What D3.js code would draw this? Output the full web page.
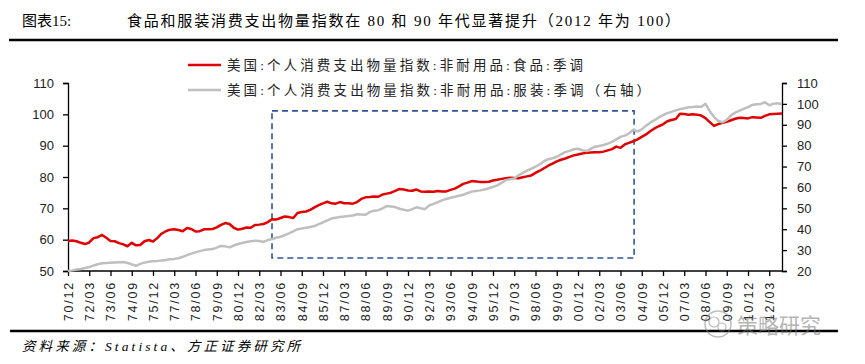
<!DOCTYPE html>
<html><head><meta charset="utf-8">
<script src="https://cdn.jsdelivr.net/npm/d3@7"></script>
<style>
html,body{margin:0;padding:0;background:#fff;}
svg{display:block;}
</style></head>
<body>
<svg id="chart" width="865" height="364"></svg>
<script>
// ---------------- DATA ----------------
const titleLabel = "图表15:";
const titleText = "食品和服装消费支出物量指数在 80 和 90 年代显著提升（2012 年为 100）";
const sourceText = "资料来源：Statista、方正证券研究所";
const seriesNames = ["美国:个人消费支出物量指数:非耐用品:食品:季调", "美国:个人消费支出物量指数:非耐用品:服装:季调（右轴）"];
const tickLabels = ["70/12","72/03","73/06","74/09","75/12","77/03","78/06","79/09","80/12","82/03","83/06","84/09","85/12","87/03","88/06","89/09","90/12","92/03","93/06","94/09","95/12","97/03","98/06","99/09","00/12","02/03","03/06","04/09","05/12","07/03","08/06","09/09","10/12","12/03"];
const leftTicks = [50,60,70,80,90,100,110];
const rightTicks = [20,30,40,50,60,70,80,90,100,110];
// quarterly, 1970Q4 .. 2012Q4
const food = [59.6,59.7,59.5,59.0,58.6,59.1,60.5,60.8,61.5,60.6,59.6,59.5,58.9,58.5,57.9,59.0,58.2,58.3,59.5,59.9,
59.4,60.5,61.9,62.7,63.2,63.3,63.1,62.7,63.7,63.4,62.6,62.7,63.3,63.3,63.4,63.9,64.7,65.3,65.0,63.8,
63.2,63.5,63.9,63.8,64.7,64.8,65.0,65.6,66.5,66.4,66.9,67.4,67.2,66.9,68.5,68.8,69.0,69.5,70.3,71.0,
71.6,72.1,71.6,71.5,72.0,71.6,71.6,71.5,72.0,73.0,73.5,73.6,73.8,73.7,74.4,74.7,75.0,75.6,76.2,76.0,
75.7,75.6,76.0,75.4,75.3,75.4,75.3,75.5,75.4,75.4,75.9,76.3,77.0,77.8,78.2,78.7,78.6,78.4,78.4,78.5,
78.9,79.1,79.4,79.6,79.8,79.7,79.6,79.9,80.2,80.5,81.3,82.0,82.8,83.6,84.3,85.0,85.5,85.9,86.4,86.9,
87.2,87.5,87.7,87.8,87.9,87.9,88.1,88.5,88.9,89.7,89.3,90.4,90.9,91.4,92.0,92.8,93.6,94.6,95.5,96.2,
96.8,97.8,98.2,98.5,100.2,100.1,99.9,100.0,99.9,99.6,98.8,97.5,96.3,96.9,97.3,97.6,98.1,98.6,98.9,98.8,
98.7,99.1,99.0,98.9,99.5,100.0,100.1,100.2,100.3];
const apparel = [20.0,20.3,20.7,21.0,21.4,21.9,22.6,23.2,23.7,23.8,24.0,24.1,24.2,24.3,23.8,23.2,22.5,23.4,24.0,24.4,
24.7,24.8,25.0,25.3,25.6,25.8,26.1,26.8,27.6,28.3,28.9,29.5,30.0,30.3,30.5,31.2,32.0,31.8,31.3,32.2,
32.9,33.4,33.9,34.2,34.5,34.4,33.9,34.8,35.3,35.9,36.4,37.2,38.0,39.0,40.0,40.3,40.7,41.1,41.5,42.4,
43.3,44.2,45.1,45.5,45.9,46.1,46.3,46.6,47.2,47.1,46.9,48.2,48.9,49.1,50.0,51.1,50.9,50.6,49.8,49.3,
48.9,49.6,50.5,50.0,49.6,51.4,52.1,53.0,53.8,54.5,55.1,55.5,56.0,56.5,57.3,58.0,58.3,58.6,59.0,59.6,
60.3,61.0,62.2,63.5,63.9,64.3,65.8,67.0,68.0,69.0,69.9,71.0,72.6,73.5,74.0,74.7,75.8,76.9,77.5,78.3,
78.5,77.8,77.4,78.5,79.5,79.8,80.3,81.0,81.8,83.0,84.2,84.8,85.9,87.6,86.8,87.8,89.5,91.0,92.2,93.5,
94.6,95.6,96.2,96.9,97.5,97.9,98.4,98.5,98.7,98.6,100.0,96.5,93.8,91.8,91.2,92.3,94.5,95.8,96.8,97.6,
98.5,99.5,99.8,100.0,100.8,99.3,100.1,100.3,99.9];
// highlight box (category index / left-axis value)
const boxX = [48, 133.2];
const boxY = [54.15, 101.1];
const tickStep = 5;

// ---------------- CHART ----------------
const svg = d3.select("#chart");
const cjk = "'Liberation Serif','Noto Sans CJK SC',serif";
const lat = "'Liberation Sans',Arial,sans-serif";

const x = d3.scaleLinear().domain([0, food.length - 1]).range([68, 782]);
const yL = d3.scaleLinear().domain([50, 110]).range([271, 83]);
const yR = d3.scaleLinear().domain([20, 110]).range([271, 83]);

// title
svg.append("text").attr("x", 22).attr("y", 26).attr("font-family", cjk).attr("font-size", 15)
  .attr("fill", "#000").text(titleLabel);
svg.append("text").attr("x", 127).attr("y", 26).attr("font-family", cjk).attr("font-size", 15)
  .attr("fill", "#000").attr("textLength", 553).attr("lengthAdjust", "spacing").text(titleText);
svg.append("line").attr("x1", 9).attr("x2", 838).attr("y1", 40).attr("y2", 40)
  .attr("stroke", "#000").attr("stroke-width", 2.5);

// legend
const colors = ["#E00000", "#BFBFBF"];
const legY = [65, 90];
const legW = [356, 423];
seriesNames.forEach((n, k) => {
  svg.append("line").attr("x1", 188).attr("x2", 221).attr("y1", legY[k]).attr("y2", legY[k])
    .attr("stroke", colors[k]).attr("stroke-width", 2.5);
  svg.append("text").attr("x", 227).attr("y", legY[k] + 5).attr("font-family", cjk)
    .attr("font-size", 13.5).attr("fill", "#222").attr("textLength", legW[k])
    .attr("lengthAdjust", "spacing").text(n);
});

// axes
const gL = svg.append("g").attr("transform", "translate(68,0)")
  .call(d3.axisLeft(yL).tickValues(leftTicks).tickSize(5).tickPadding(9).tickFormat(d3.format("d")));
const gR = svg.append("g").attr("transform", "translate(782,0)")
  .call(d3.axisRight(yR).tickValues(rightTicks).tickSize(5).tickPadding(10).tickFormat(d3.format("d")));
const gX = svg.append("g").attr("transform", "translate(0,271)")
  .call(d3.axisBottom(x).tickValues(tickLabels.map((_, i) => i * tickStep)).tickSize(5).tickSizeOuter(0)
    .tickFormat((d, i) => tickLabels[i]));
[gL, gR, gX].forEach(g => {
  g.selectAll("path,line").attr("stroke", "#000").attr("stroke-width", 1.3);
  g.selectAll("text").attr("font-family", lat).attr("font-size", 13).attr("fill", "#222");
});
gX.select(".domain").attr("d", "M68,0H782");
gX.selectAll("text").attr("transform", "rotate(-90)").attr("text-anchor", "end")
  .attr("x", -10).attr("y", 0).attr("dy", "0.35em").attr("font-size", 12.5).attr("letter-spacing", 1.8);

// highlight box
svg.append("rect").attr("x", x(boxX[0])).attr("y", yL(boxY[1]))
  .attr("width", x(boxX[1]) - x(boxX[0])).attr("height", yL(boxY[0]) - yL(boxY[1]))
  .attr("fill", "none").attr("stroke", "#2F5597").attr("stroke-width", 1.6).attr("stroke-dasharray", "6,4");

// lines
const lineL = d3.line().x((d, i) => x(i)).y(d => yL(d));
const lineR = d3.line().x((d, i) => x(i)).y(d => yR(d));
svg.append("path").datum(food).attr("d", lineL).attr("fill", "none")
  .attr("stroke", colors[0]).attr("stroke-width", 2.5).attr("stroke-linejoin", "round");
svg.append("path").datum(apparel).attr("d", lineR).attr("fill", "none")
  .attr("stroke", colors[1]).attr("stroke-width", 2.5).attr("stroke-linejoin", "round");

// footer
svg.append("line").attr("x1", 10).attr("x2", 838).attr("y1", 331).attr("y2", 331)
  .attr("stroke", "#000").attr("stroke-width", 2.5);
svg.append("text").attr("x", 22).attr("y", 351).attr("font-family", cjk).attr("font-size", 13.5)
  .attr("font-style", "italic").attr("fill", "#000").attr("textLength", 278).attr("lengthAdjust", "spacing")
  .text(sourceText);

// watermark
const wm = svg.append("g").attr("opacity", 0.55);
wm.append("circle").attr("cx", 718).attr("cy", 324).attr("r", 13).attr("fill", "none").attr("stroke", "#888").attr("stroke-width", 1.5);
wm.append("circle").attr("cx", 714).attr("cy", 322).attr("r", 5).attr("fill", "none").attr("stroke", "#888").attr("stroke-width", 1.2);
wm.append("circle").attr("cx", 722).attr("cy", 327).attr("r", 4).attr("fill", "none").attr("stroke", "#888").attr("stroke-width", 1.2);
wm.append("text").attr("x", 737).attr("y", 333).attr("font-family", "'Noto Sans CJK SC',sans-serif")
  .attr("font-size", 21).attr("fill", "#777").text("策略研究");
</script>
</body></html>
